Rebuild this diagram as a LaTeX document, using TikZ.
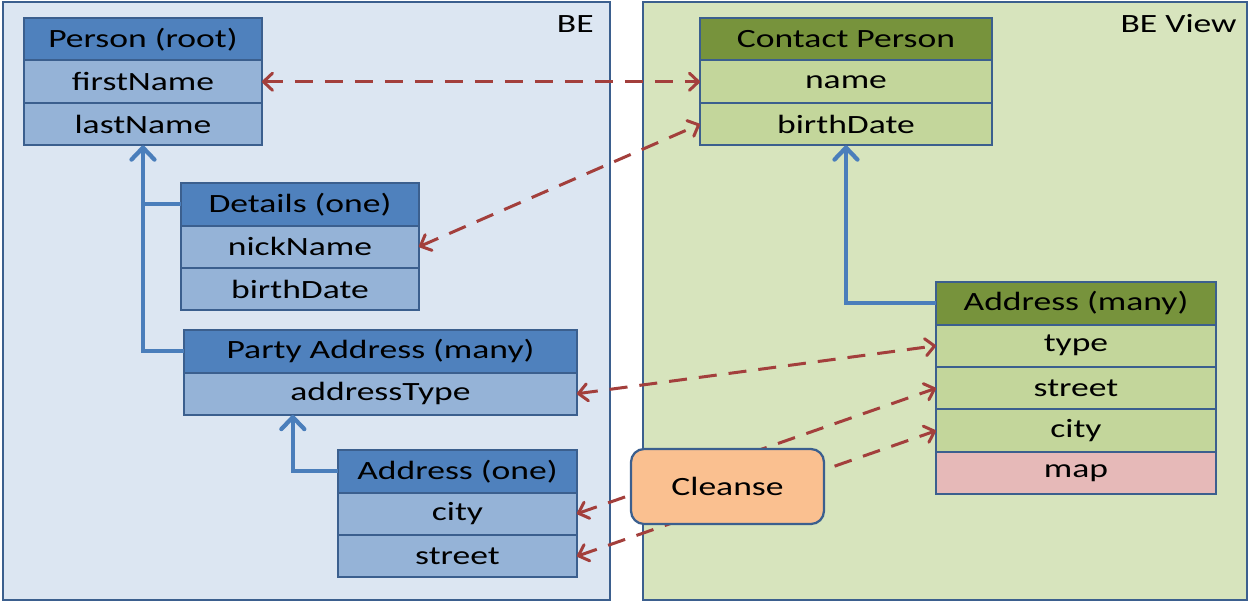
\documentclass[tikz,border=0pt]{standalone}
\usepackage{fontspec}
\setmainfont{Carlito}[FakeStretch=1.35]
\usetikzlibrary{arrows.meta,calc}
\definecolor{bordc}{HTML}{3B5F8E}
\definecolor{bgblue}{HTML}{DCE6F2}
\definecolor{bggreen}{HTML}{D7E4BD}
\definecolor{hblue}{HTML}{4F81BD}
\definecolor{rblue}{HTML}{95B3D7}
\definecolor{hgreen}{HTML}{77933C}
\definecolor{rgreen}{HTML}{C3D69B}
\definecolor{rpink}{HTML}{E6B9B8}
\definecolor{corange}{HTML}{FAC090}
\definecolor{lblue}{HTML}{4A7EBB}
\definecolor{dred}{HTML}{A33F3C}
\begin{document}
\begin{tikzpicture}[x=0.02cm,y=-0.02cm,
  font=\fontsize{15}{17}\selectfont,
  outer/.style={draw=bordc,line width=0.045cm},
  cell/.style={rectangle,draw=bordc,line width=0.04cm,inner sep=0pt,outer sep=0pt,minimum height=0.85cm,anchor=north west,text=black},
  hb/.style={cell,fill=hblue},
  rb/.style={cell,fill=rblue},
  hg/.style={cell,fill=hgreen},
  rg/.style={cell,fill=rgreen},
  rp/.style={cell,fill=rpink},
  bl/.style={draw=lblue,line width=0.085cm},
  bla/.style={bl,-{Straight Barb[length=0.24cm,width=0.46cm,round]}},
  rda/.style={draw=dred,line width=0.06cm,dash pattern=on 0.36cm off 0.24cm,
    {Straight Barb[length=0.18cm,width=0.34cm,round]}-{Straight Barb[length=0.18cm,width=0.34cm,round]}},
  cleansebox/.style={rectangle,draw=bordc,line width=0.045cm,fill=corange,rounded corners=0.26cm,
    minimum width=3.86cm,minimum height=1.5cm,text=black}
]
\useasboundingbox (0,0) rectangle (1251,603);
% outer regions
\draw[outer,fill=bgblue] (3,2) rectangle (610,600);
\draw[outer,fill=bggreen] (643,2) rectangle (1247,600);
\node[anchor=east,inner sep=0pt] (lbe) at (594,24) {BE};
\node[anchor=east,inner sep=0pt] (lbev) at (1237,24) {BE View};

% Person (root)
\node[hb,minimum width=4.76cm] (p0) at (24,18) {Person (root)};
\node[rb,minimum width=4.76cm] (p1) at (p0.south west) {firstName};
\node[rb,minimum width=4.76cm] (p2) at (p1.south west) {lastName};
% Details (one)
\node[hb,minimum width=4.76cm] (d0) at (181,183) {Details (one)};
\node[rb,minimum width=4.76cm] (d1) at (d0.south west) {nickName};
\node[rb,minimum width=4.76cm] (d2) at (d1.south west) {birthDate};
% Party Address (many)
\node[hb,minimum width=7.86cm] (pa0) at (184,330) {Party Address (many)};
\node[rb,minimum width=7.86cm] (pa1) at (pa0.south west) {addressType};
% Address (one)
\node[hb,minimum width=4.78cm] (ao0) at (338,450) {Address (one)};
\node[rb,minimum width=4.78cm] (ao1) at (ao0.south west) {city};
\node[rb,minimum width=4.78cm] (ao2) at (ao1.south west) {street};
% Contact Person
\node[hg,minimum width=5.84cm] (c0) at (700,18) {Contact Person};
\node[rg,minimum width=5.84cm] (c1) at (c0.south west) {name};
\node[rg,minimum width=5.84cm] (c2) at (c1.south west) {birthDate};
% Address (many)
\node[hg,minimum width=5.6cm] (am0) at (936,282) {Address (many)};
\node[rg,minimum width=5.6cm] (am1) at (am0.south west) {type};
\node[rg,minimum width=5.6cm] (am2) at (am1.south west) {street};
\node[rg,minimum width=5.6cm] (am3) at (am2.south west) {city};
\node[rp,minimum width=5.6cm] (am4) at (am3.south west) {map};

% blue containment connectors
\draw[bla] (pa0.west) -| (p2.south);
\draw[bl] (d0.west) -- (d0.west -| p2.south);
\draw[bla] (ao0.west) -| ($(pa1.south west)!0.277!(pa1.south east)$);
\draw[bla] (am0.west) -| (c2.south);

% red mappings
\draw[rda] (p1.east) -- (c1.west);
\draw[rda] (d1.east) -- (c2.west);
\draw[rda] (pa1.east) -- (am1.west);
\draw[rda] (ao1.east) -- (am2.west);
\draw[rda] (ao2.east) -- (am3.west);

% Cleanse
\node[cleansebox] (cl) at (727.5,486.5) {Cleanse};
\end{tikzpicture}
\end{document}
